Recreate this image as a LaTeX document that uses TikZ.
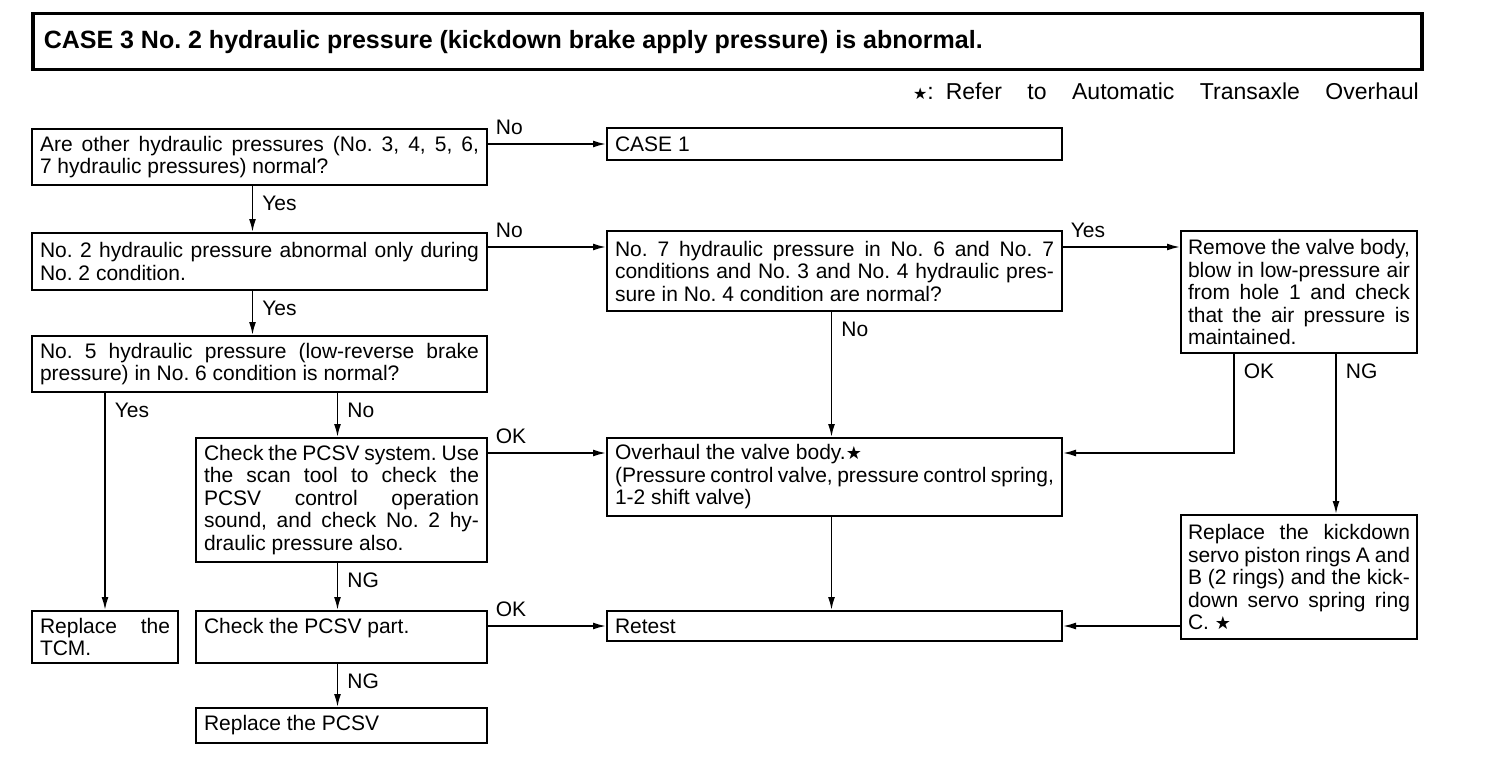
\documentclass[tikz,border=0pt]{standalone}
\usepackage{fontspec}
\setmainfont{Liberation Sans}
\newfontfamily\starfont{DejaVu Sans}
\usetikzlibrary{arrows.meta,positioning}

\newcommand{\fs}{\fontsize{21}{22.5}\selectfont\frenchspacing}
\newcommand{\bstar}{{\starfont\fontsize{18}{18}\selectfont ★}}

\begin{document}
\begin{tikzpicture}[x=1pt,y=-1pt,
  box/.style={draw,line width=2pt,anchor=north west,inner xsep=8pt,inner ysep=0pt,align=justify,font=\fs},
  arr/.style={line width=1.7pt,-{Latex[length=13pt,width=7pt]}},
  lbh/.style={pos=0,anchor=south west,inner sep=0pt,xshift=7pt,yshift=8pt,font=\fs},
  lbv/.style={pos=0,anchor=north west,inner sep=0pt,xshift=9pt,yshift=-9pt,font=\fs}]
  \useasboundingbox (0,0) rectangle (1504,760);

  \node[draw,line width=3.5pt,anchor=north west,minimum height=56pt,inner xsep=11pt,inner ysep=0pt,font=\fontsize{25}{28}\selectfont\bfseries\frenchspacing] (title) at (31,12)
    {\makebox[1367pt][l]{\makebox[939pt][s]{CASE 3 No. 2 hydraulic pressure (kickdown brake apply pressure) is abnormal.}}};
  \node[anchor=east,inner sep=0pt,font=\fontsize{23}{26}\selectfont] (legend) at (1419,91)
    {{\starfont\fontsize{16}{16}\selectfont ★}:\hspace{12pt}\makebox[473pt][s]{Refer to Automatic Transaxle Overhaul}};

  \node[box,text width=439pt,minimum height=56pt] (other) at (31,128)
    {Are other hydraulic pressures (No. 3, 4, 5, 6,\linebreak 7 hydraulic pressures) normal?};
  \node[box,text width=439pt,minimum height=32pt] (case1) at (606,127) {CASE 1};
  \node[box,text width=439pt,minimum height=57pt] (onlytwo) at (31,232)
    {No. 2 hydraulic pressure abnormal only during\linebreak No. 2 condition.};
  \node[box,text width=439pt,minimum height=56pt] (five) at (31,335)
    {No. 5 hydraulic pressure (low-reverse brake\linebreak pressure) in No. 6 condition is normal?};
  \node[box,text width=439pt,minimum height=80pt] (seven) at (606,230)
    {No. 7 hydraulic pressure in No. 6 and No. 7\linebreak conditions and No. 3 and No. 4 hydraulic pres-\linebreak sure in No. 4 condition are normal?};
  \node[box,text width=222pt,inner xsep=7pt,minimum height=122pt] (remove) at (1180,230)
    {Remove the valve body,\linebreak blow in low-pressure air\linebreak from hole 1 and check\linebreak that the air pressure is\linebreak maintained.};
  \node[box,text width=275pt,minimum height=124pt] (pcsv) at (195,437)
    {Check the PCSV system. Use\linebreak the scan tool to check the\linebreak PCSV control operation\linebreak sound, and check No. 2 hy-\linebreak draulic pressure also.};
  \node[box,text width=439pt,minimum height=78pt] (overhaul) at (606,437)
    {Overhaul the valve body.\bstar\\(Pressure control valve, pressure control spring,\linebreak 1-2 shift valve)};
  \node[box,text width=222pt,inner xsep=7pt,minimum height=124pt] (rings) at (1180,514)
    {Replace the kickdown\linebreak servo piston rings A and\linebreak B (2 rings) and the kick-\linebreak down servo spring ring\linebreak C. \bstar};
  \node[box,text width=130pt,minimum height=52pt] (tcm) at (31,610) {Replace the\linebreak TCM.};
  \node[box,text width=275pt,minimum height=52pt] (part) at (195,610) {Check the PCSV part.\\\mbox{}};
  \node[box,text width=439pt,minimum height=30pt] (retest) at (606,610) {Retest};
  \node[box,text width=275pt,minimum height=35pt] (newpcsv) at (195,707) {Replace the PCSV};

  \draw[arr] (other.east |- case1.west) -- (case1.west) node[lbh]{No};
  \draw[arr] ([xshift=-7pt]other.south) -- ([xshift=-7pt]onlytwo.north) node[lbv]{Yes};
  \draw[arr] ([yshift=-15pt]onlytwo.north east) -- ([yshift=-15pt]onlytwo.north east -| seven.west) node[lbh]{No};
  \draw[arr] ([xshift=-7pt]onlytwo.south) -- ([xshift=-7pt]five.north) node[lbv]{Yes};
  \draw[arr] ([yshift=-17pt]seven.north east) -- ([yshift=-17pt]seven.north east -| remove.west) node[lbh]{Yes};
  \draw[arr] ([xshift=-3pt]seven.south) -- ([xshift=-3pt]overhaul.north) node[lbv]{No};
  \draw[arr] (five.south -| tcm.north) -- (tcm.north) node[lbv]{Yes};
  \draw[arr] ([xshift=-4pt]five.south -| pcsv.north) -- ([xshift=-4pt]pcsv.north) node[lbv]{No};
  \draw[arr] ([yshift=-16pt]pcsv.north east) -- ([yshift=-16pt]pcsv.north east -| overhaul.west) node[lbh]{OK};
  \draw[arr] ([xshift=-65pt]remove.south) |- ([yshift=-16pt]overhaul.north east) node[lbv]{OK};
  \draw[arr] ([xshift=37pt]remove.south) -- ([xshift=37pt]remove.south |- rings.north) node[lbv]{NG};
  \draw[arr] ([xshift=-3pt]overhaul.south) -- ([xshift=-3pt]retest.north);
  \draw[arr] ([xshift=-4pt]pcsv.south) -- ([xshift=-4pt]part.north) node[lbv]{NG};
  \draw[arr] (part.east |- retest.west) -- (retest.west) node[lbh]{OK};
  \draw[arr] (retest.east -| rings.west) -- (retest.east);
  \draw[arr] ([xshift=-4pt]part.south) -- ([xshift=-4pt]newpcsv.north) node[lbv]{NG};
\end{tikzpicture}
\end{document}
